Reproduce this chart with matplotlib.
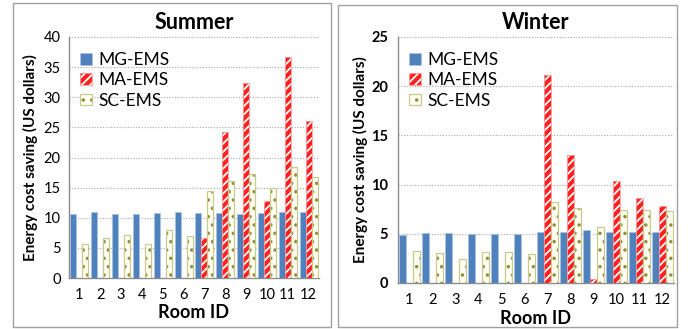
import matplotlib
matplotlib.use("Agg")
import matplotlib.pyplot as plt
import numpy as np
from matplotlib.patches import Rectangle
from matplotlib.legend_handler import HandlerTuple

rooms = [str(i) for i in range(1, 13)]
series = ["MG-EMS", "MA-EMS", "SC-EMS"]

summer_mg = [10.7, 10.9, 10.7, 10.7, 10.8, 10.9, 10.8, 10.8, 10.7, 10.8, 10.9, 11.0]
summer_ma = [0, 0, 0, 0, 0, 0, 6.6, 24.3, 32.3, 12.7, 36.7, 26.0]
summer_sc = [5.6, 6.6, 7.2, 5.6, 8.0, 6.9, 14.4, 16.1, 17.3, 15.0, 18.4, 16.7]

winter_mg = [4.9, 5.05, 5.1, 5.0, 5.0, 4.95, 5.2, 5.2, 5.4, 5.2, 5.2, 5.2]
winter_ma = [0, 0, 0, 0, 0, 0, 21.1, 13.0, 0.4, 10.4, 8.6, 7.8]
winter_sc = [3.3, 3.0, 2.4, 3.1, 3.1, 2.9, 8.2, 7.65, 5.7, 7.4, 7.45, 7.3]

plt.rcParams['font.family'] = ['Lato', 'DejaVu Sans']
plt.rcParams['hatch.linewidth'] = 1.3

fig = plt.figure(figsize=(6.99, 3.29), dpi=100)
W, H = 699, 329

def fx(px):
    return px / W

def fy(py):
    return 1 - py / H

# panel boxes
for (x0, x1, y0, y1) in [(13, 330.5, 3, 327), (338, 676.5, 5, 327)]:
    fig.add_artist(Rectangle((fx(x0), fy(y1)), fx(x1) - fx(x0), fy(y0) - fy(y1),
                             transform=fig.transFigure, fill=False,
                             edgecolor='#a0a0a0', linewidth=1.0))

def panel(rect, mg, ma, sc, title, ymax, ytick_bold, ypad, ylabpad):
    l, r, t, b = rect
    ax = fig.add_axes([fx(l), fy(b), fx(r) - fx(l), fy(t) - fy(b)])
    x = np.arange(1, 13)
    w = 0.29
    # MG
    h1 = ax.bar(x - w, mg, w, color='#4f81bd', edgecolor='#a9c2e3', linewidth=0.6, zorder=3)
    # MA: red with white stripes
    h2a = ax.bar(x, ma, w, color='#ff2020', edgecolor='white', hatch='////', linewidth=0, zorder=3)
    h2b = ax.bar(x, ma, w, fill=False, edgecolor='#ff9a9a', linewidth=0.6, zorder=4)
    # SC: cream with olive dots
    h3a = ax.bar(x + w, sc, w, color='#fffff4', edgecolor='#8f8f3a', hatch='..', linewidth=0, zorder=3)
    h3b = ax.bar(x + w, sc, w, fill=False, edgecolor='#c9c98f', linewidth=0.9, zorder=4)

    ax.set_xlim(0.5, 12.5)
    ax.set_ylim(0, ymax)
    ax.set_yticks(np.arange(0, ymax + 1, 5))
    ax.set_xticks(x)
    ax.set_xticklabels(rooms, fontsize=10.5)
    for lab in ax.get_yticklabels():
        lab.set_fontsize(10.5)
        if ytick_bold:
            lab.set_fontweight('bold')
    ax.tick_params(length=0)
    ax.tick_params(axis='y', pad=ypad)
    ax.tick_params(axis='x', pad=7)
    ax.yaxis.grid(True, linestyle=(0, (1, 1.5)), color='#a6a6a6', linewidth=0.8, zorder=0)
    ax.set_axisbelow(True)
    for s in ['top', 'right']:
        ax.spines[s].set_visible(False)
    for s in ['left', 'bottom']:
        ax.spines[s].set_color('#8c8c8c')
        ax.spines[s].set_linewidth(1.0)
    ax.set_title(title, fontsize=15.5, fontweight='bold', pad=6)
    ax.set_xlabel('Room ID', fontsize=13, fontweight='bold', labelpad=2)
    ax.set_ylabel('Energy cost saving (US dollars)', fontsize=11, fontweight='bold', labelpad=ylabpad)
    ax.legend([h1, (h2a, h2b), (h3a, h3b)], series,
              handler_map={tuple: HandlerTuple(ndivide=1)},
              loc='upper left', frameon=False, fontsize=12.5,
              handlelength=0.65, handleheight=0.65, handletextpad=0.4,
              labelspacing=0.25, borderaxespad=0.25, bbox_to_anchor=(0.0, 0.985))
    return ax

panel((69, 319, 37, 278), summer_mg, summer_ma, summer_sc, 'Summer', 40, False, 6, 4)
panel((398, 674, 37, 283), winter_mg, winter_ma, winter_sc, 'Winter', 25, True, 7, 2)

fig.savefig('out.png', dpi=100)
